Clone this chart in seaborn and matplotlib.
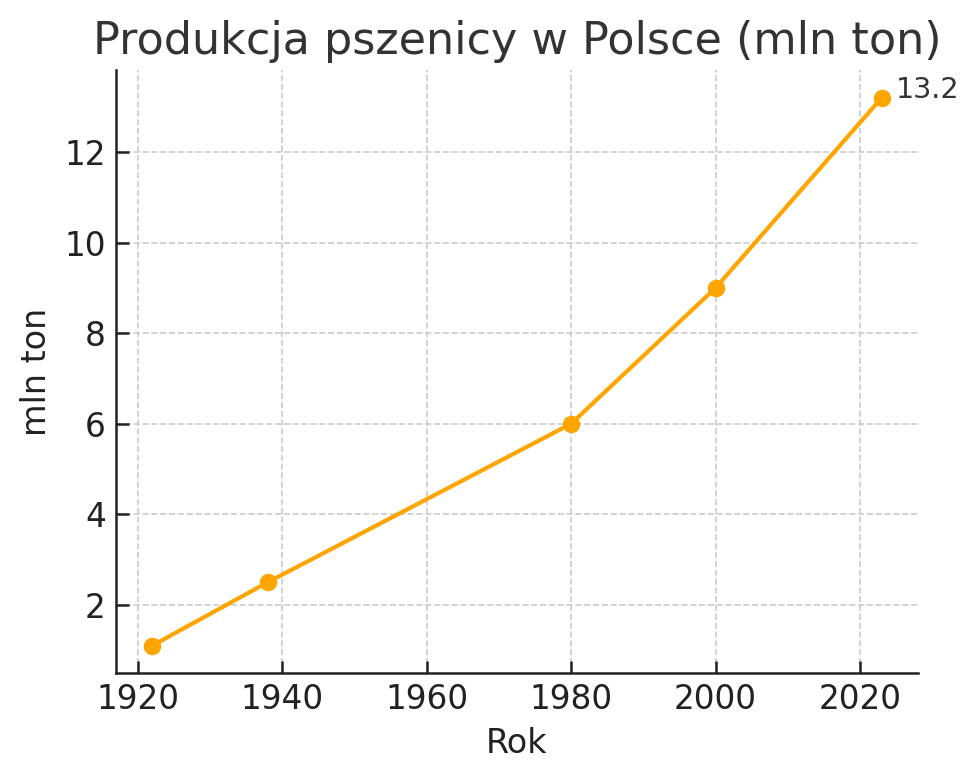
import matplotlib
matplotlib.use("Agg")
import pandas as pd
import matplotlib.pyplot as plt
import seaborn as sns

# data
years = [1922, 1938, 1980, 2000, 2023]
production = [1.1, 2.5, 6.0, 9.0, 13.2]

df = pd.DataFrame({"Rok": years, "mln ton": production})

sns.set_theme(style="ticks")
plt.rcParams["font.family"] = ["DejaVu Sans"]

fig, ax = plt.subplots(figsize=(4.895, 3.9), dpi=200)

sns.lineplot(data=df, x="Rok", y="mln ton", color="orange", marker="o",
             markersize=6.3, markeredgewidth=0, linewidth=1.5, ax=ax)

ax.grid(True, linestyle="--", color="#cccccc", linewidth=0.6)
ax.set_title("Produkcja pszenicy w Polsce (mln ton)", fontsize=16, color="#333333")
ax.set_xlabel("Rok", fontsize=12, color="#222222")
ax.set_ylabel("mln ton", fontsize=12, color="#222222")
ax.tick_params(labelsize=11.8, colors="#222222", width=0.9, length=4.5, direction="in")
ax.set_yticks([2, 4, 6, 8, 10, 12])
for s in ["left", "bottom"]:
    ax.spines[s].set_linewidth(0.9)
    ax.spines[s].set_color("#222222")
sns.despine(ax=ax)

# value label next to the last point
ax.annotate(f"{production[-1]}", xy=(years[-1], production[-1]), xytext=(5, 0),
            textcoords="offset points", fontsize=10.3, color="#333333")

fig.subplots_adjust(left=0.118, right=0.938, top=0.91, bottom=0.137)
fig.savefig("out.png", dpi=200)
